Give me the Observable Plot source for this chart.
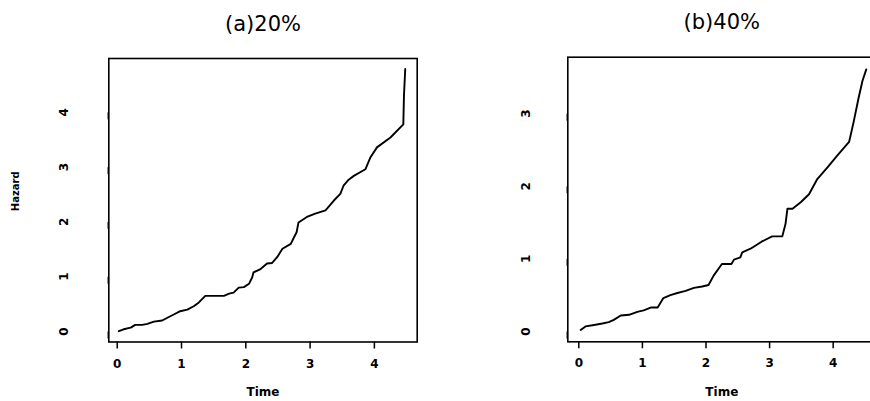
<!DOCTYPE html>
<html>
<head>
<meta charset="utf-8">
<script src="https://cdn.jsdelivr.net/npm/d3@7"></script>
<script src="https://cdn.jsdelivr.net/npm/@observablehq/plot@0.6"></script>
<style>
  html, body { margin: 0; padding: 0; background: #fff; }
  #wrap { position: relative; width: 870px; height: 401px; overflow: hidden; background: #fff; }
  #wrap svg { position: absolute; top: 0; }
</style>
</head>
<body>
<div id="wrap"></div>
<script>
// ---- data ----
const timeA = [0.025, 0.10, 0.21, 0.28, 0.39, 0.47, 0.57, 0.70, 0.78, 0.88, 0.98, 1.09, 1.19, 1.27, 1.37, 1.66, 1.74, 1.81, 1.89, 1.97, 2.05, 2.10, 2.12, 2.23, 2.33, 2.41, 2.49, 2.57, 2.70, 2.75, 2.79, 2.82, 2.95, 3.08, 3.24, 3.37, 3.47, 3.52, 3.60, 3.68, 3.86, 3.94, 4.04, 4.25, 4.45, 4.46, 4.48];
const hazardA = [0.005, 0.04, 0.07, 0.12, 0.12, 0.14, 0.18, 0.20, 0.25, 0.31, 0.37, 0.40, 0.46, 0.53, 0.65, 0.65, 0.69, 0.71, 0.80, 0.81, 0.87, 0.99, 1.08, 1.14, 1.24, 1.25, 1.36, 1.51, 1.60, 1.72, 1.81, 1.99, 2.09, 2.15, 2.21, 2.39, 2.51, 2.66, 2.77, 2.84, 2.96, 3.18, 3.36, 3.54, 3.78, 4.30, 4.79];

const timeB = [0.03, 0.105, 0.24, 0.37, 0.47, 0.55, 0.66, 0.79, 0.92, 1.02, 1.13, 1.24, 1.33, 1.44, 1.55, 1.68, 1.81, 1.94, 2.04, 2.12, 2.25, 2.40, 2.44, 2.54, 2.57, 2.70, 2.88, 3.04, 3.20, 3.25, 3.28, 3.36, 3.49, 3.62, 3.75, 3.91, 4.06, 4.25, 4.32, 4.40, 4.46, 4.52];
const hazardB = [0.02, 0.07, 0.09, 0.11, 0.13, 0.16, 0.22, 0.23, 0.27, 0.29, 0.33, 0.33, 0.46, 0.50, 0.53, 0.56, 0.60, 0.62, 0.64, 0.77, 0.93, 0.93, 0.99, 1.02, 1.09, 1.14, 1.24, 1.31, 1.31, 1.48, 1.69, 1.69, 1.78, 1.89, 2.10, 2.26, 2.42, 2.61, 2.88, 3.22, 3.45, 3.61];

const xTicks = [0, 1, 2, 3, 4];
const yTicksA = [0, 1, 2, 3, 4];
const yTicksB = [0, 1, 2, 3];
const titleA = "(a)20%";
const titleB = "(b)40%";
const xLabel = "Time";
const yLabel = "Hazard";

// ---- drawing ----
const FONT = "DejaVu Sans";
const intFmt = d => String(d);

function panel({times, hazards, yTicks, title, width, left, marginLeft, marginRight, marginTop, marginBottom, xDomain, yDomain, yPad, showYLabel}) {
  const data = times.map((t, i) => ({t, h: hazards[i]}));
  const marks = [
    Plot.frame({stroke: "#000", strokeWidth: 1.6}),
    Plot.axisX({anchor: "bottom", ticks: xTicks, tickFormat: intFmt, tickSize: 7, tickPadding: 10, strokeWidth: 1.5,
      fontSize: 12, fontWeight: "bold", label: null}),
    Plot.axisY({anchor: "left", ticks: yTicks, tickFormat: intFmt, tickSize: 7, tickPadding: yPad, strokeWidth: 1.5,
      rotate: -90, textAnchor: "middle", fontSize: 12, fontWeight: "bold", label: null}),
    Plot.line(data, {x: "t", y: "h", stroke: "#000", strokeWidth: 1.9, strokeLinejoin: "round"}),
    Plot.text([title], {frameAnchor: "top", lineAnchor: "middle", textAnchor: "middle", dy: -34.5, fontSize: 21}),
    Plot.text([xLabel], {frameAnchor: "bottom", lineAnchor: "middle", textAnchor: "middle", dy: 50.5, fontSize: 12, fontWeight: "bold"})
  ];
  if (showYLabel) {
    marks.push(Plot.text([yLabel], {frameAnchor: "left", lineAnchor: "middle", textAnchor: "middle",
      dx: 15 - marginLeft, dy: -9, rotate: -90, fontSize: 10, fontWeight: "bold"}));
  }
  const svg = Plot.plot({
    width, height: 401,
    marginLeft, marginRight, marginTop, marginBottom,
    style: {fontFamily: FONT, fontSize: "12px", background: "transparent", color: "#000", overflow: "visible"},
    x: {domain: xDomain, label: null},
    y: {domain: yDomain, label: null},
    marks
  });
  svg.style.left = left + "px";
  return svg;
}

const wrap = document.getElementById("wrap");
wrap.appendChild(panel({
  times: timeA, hazards: hazardA, yTicks: yTicksA, title: titleA,
  width: 435, left: 0,
  marginLeft: 108.3, marginRight: 18.3, marginTop: 58, marginBottom: 59.5,
  xDomain: [-0.131, 4.666], yDomain: [-0.192, 4.982], yPad: 38, showYLabel: true
}));
wrap.appendChild(panel({
  times: timeB, hazards: hazardB, yTicks: yTicksB, title: titleB,
  width: 450, left: 435,
  marginLeft: 132.3, marginRight: 9.7, marginTop: 56.7, marginBottom: 59.7,
  xDomain: [-0.173, 4.67], yDomain: [-0.142, 3.778], yPad: 35, showYLabel: false
}));
</script>
</body>
</html>
